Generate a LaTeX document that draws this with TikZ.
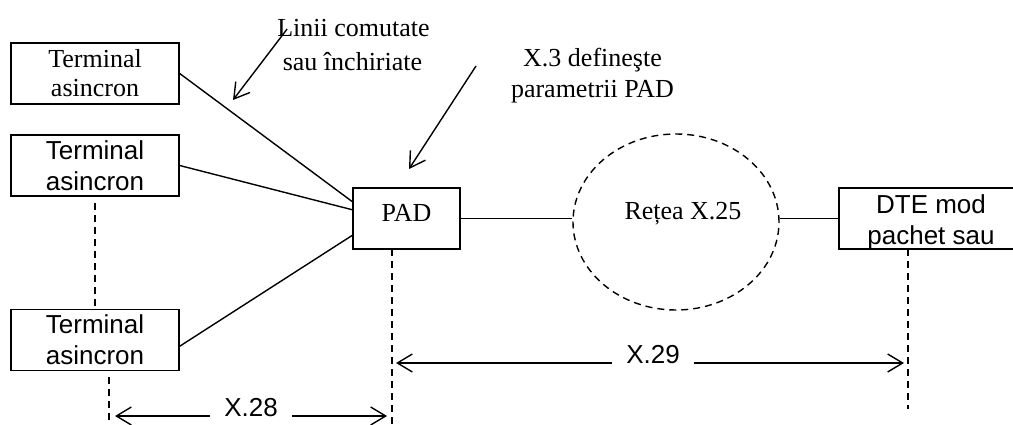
\documentclass[tikz,border=0pt]{standalone}
\usepackage{fontspec}
\setmainfont{Liberation Serif}
\setsansfont{Liberation Sans}
\usetikzlibrary{arrows.meta,shapes.geometric,calc}
\begin{document}
\begin{tikzpicture}[x=1pt,y=-1pt,
  every node/.style={inner sep=0pt},
  lw/.style={line width=1.4pt},
  box/.style={draw, line width=1.4pt, minimum width=168pt, minimum height=61pt, align=center},
  serif/.style={font=\fontsize{26}{29}\selectfont},
  sans/.style={font=\sffamily\fontsize{26}{31}\selectfont},
  dashln/.style={line width=1.4pt, dash pattern=on 7pt off 5pt},
  barb/.style={line width=1.4pt, -{Straight Barb[length=15pt,width=18pt]}},
  dimlabel/.style={sans, inner xsep=14.5pt, anchor=base}
]
\clip (0,0) rectangle (1013,425);

% terminals, PAD and the remote packet-mode DTE
\node[box,serif] (t1) at (95,73.5) {Terminal\\asincron};
\node[box,sans]  (t2) at (95,165.5) {Terminal\\asincron};
\node[box,sans]  (t3) at (95,340) {Terminal\\asincron};
\node[box,serif, minimum width=107pt, text height=17.2pt, text depth=12pt] (pad) at (406.5,218.5) {PAD};
\node[draw, lw, minimum width=184pt, minimum height=61pt] (dte) at (931,218.5) {};
\node[sans, align=center] (dtelbl) at (931,222) {DTE mod\\pachet sau};

% the X.25 network cloud
\node[ellipse, draw, dashln, minimum width=206pt, minimum height=176pt] (net) at (676,222) {};
\node[serif, anchor=base] (netlbl) at (683,220) {Rețea X.25};

% annotations
\node[serif, anchor=base] (lin1) at (353.5,37) {Linii comutate};
\node[serif, anchor=base] (lin2) at (352.5,71) {sau închiriate};
\node[serif, anchor=base] (x3a) at (592.5,67) {X.3 defineşte};
\node[serif, anchor=base] (x3b) at (592.5,98) {parametrii PAD};

\coordinate (a1s) at ($(lin1.base west)+(10,-8)$);
\coordinate (a1t) at (233,100);
\draw[barb] (a1s) -- (a1t);
\coordinate (a2s) at (476,66);
\coordinate (a2t) at (409,169);
\draw[barb] (a2s) -- (a2t);

% access lines into the PAD
\draw[lw] (t1.east) -- ($(pad.north west)!0.23!(pad.south west)$);
\draw[lw] (t2.east) -- ($(pad.north west)!0.36!(pad.south west)$);
\draw[lw] ($(t3.north east)!0.6!(t3.south east)$) -- ($(pad.north west)!0.77!(pad.south west)$);

% PAD -- network -- DTE
\draw[lw] (pad.east) -- (pad.east -| net.west);
\draw[lw] (dte.west -| net.east) -- (dte.west);

% interface reference lines
\coordinate (v2a) at (95,203);
\coordinate (v2b) at ($(t3.north)+(0,-2)$);
\draw[dashln] (v2a) -- (v2b);
\coordinate (v3a) at (109,377);
\coordinate (v3b) at (109,430);
\draw[dashln] (v3a) -- (v3b);
\coordinate (vpa) at (392,249);
\coordinate (vpb) at (392,430);
\draw[dashln] (vpa) -- (vpb);
\coordinate (vda) at (908,249);
\coordinate (vdb) at (908,409);
\draw[dashln] (vda) -- (vdb);

% protocol spans
\node[dimlabel] (x28) at (251,416) {X.28};
\coordinate (x28l) at (115,416);
\coordinate (x28r) at (387,416);
\draw[barb] (x28.base west) -- (x28l);
\draw[barb] (x28.base east) -- (x28r);

\node[dimlabel] (x29) at (653,363) {X.29};
\coordinate (x29l) at (396,363);
\coordinate (x29r) at (904,363);
\draw[barb] (x29.base west) -- (x29l);
\draw[barb] (x29.base east) -- (x29r);
\end{tikzpicture}
\end{document}
